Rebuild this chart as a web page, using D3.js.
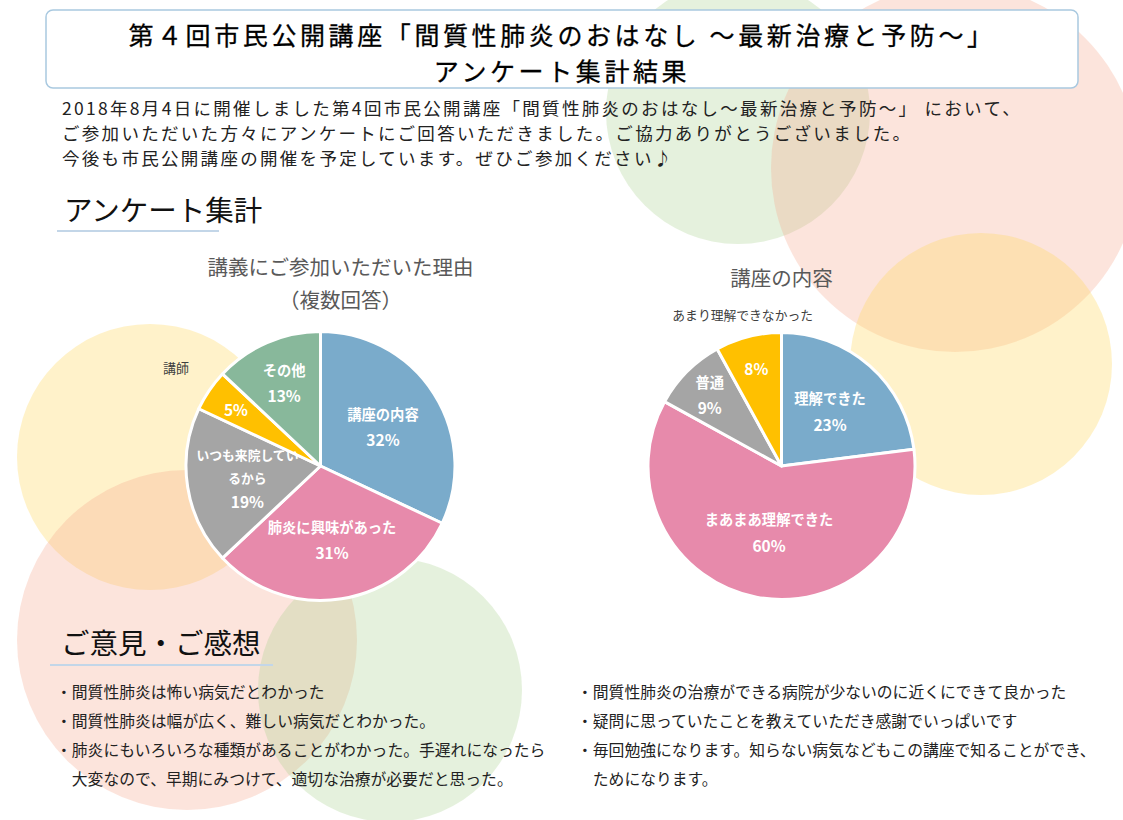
<!DOCTYPE html>
<html><head><meta charset="utf-8">
<script src="https://cdn.jsdelivr.net/npm/d3@7"></script>
<style>
html,body{margin:0;padding:0;background:#fff;}
svg{display:block;font-family:"Noto Sans CJK JP","Noto Sans",sans-serif;}
</style></head><body>
<svg id="c" width="1123" height="820"></svg>
<script>
// ---- data ----
const titleLines = ["第４回市民公開講座「間質性肺炎のおはなし ～最新治療と予防～」", "アンケート集計結果"];
const introLines = [
  "2018年8月4日に開催しました第4回市民公開講座「間質性肺炎のおはなし～最新治療と予防～」 において、",
  "ご参加いただいた方々にアンケートにご回答いただきました。ご協力ありがとうございました。",
  "今後も市民公開講座の開催を予定しています。ぜひご参加ください♪"
];
const section1 = "アンケート集計";
const section2 = "ご意見・ご感想";

const pie1Title = ["講義にご参加いただいた理由", "（複数回答）"];
const pie1Categories = ["講座の内容", "肺炎に興味があった", "いつも来院しているから", "講師", "その他"];
const pie1Values = [32, 31, 19, 5, 13];

const pie2Title = ["講座の内容"];
const pie2Categories = ["理解できた", "まあまあ理解できた", "普通", "あまり理解できなかった"];
const pie2Values = [23, 60, 9, 8];

const commentsLeft = [
  ["・間質性肺炎は怖い病気だとわかった"],
  ["・間質性肺炎は幅が広く、難しい病気だとわかった。"],
  ["・肺炎にもいろいろな種類があることがわかった。手遅れになったら", "　大変なので、早期にみつけて、適切な治療が必要だと思った。"]
];
const commentsRight = [
  ["・間質性肺炎の治療ができる病院が少ないのに近くにできて良かった"],
  ["・疑問に思っていたことを教えていただき感謝でいっぱいです"],
  ["・毎回勉強になります。知らない病気などもこの講座で知ることができ、", "　ためになります。"]
];

// ---- drawing ----
const svg = d3.select("#c");

// decorative background circles
const bg = svg.append("g");
const bgCircles = [
  {cx: 738, cy: 112, r: 132, c: "#a9d08e", o: 0.3},
  {cx: 955, cy: 168, r: 184, c: "#f4a58a", o: 0.3},
  {cx: 981, cy: 364, r: 131, c: "#ffd966", o: 0.35},
  {cx: 150, cy: 457, r: 133, c: "#ffd966", o: 0.35},
  {cx: 187, cy: 640, r: 170, c: "#f4a58a", o: 0.3},
  {cx: 390, cy: 690, r: 132, c: "#a9d08e", o: 0.3}
];
bg.selectAll("circle").data(bgCircles).join("circle")
  .attr("cx", d => d.cx).attr("cy", d => d.cy).attr("r", d => d.r)
  .attr("fill", d => d.c).attr("fill-opacity", d => d.o);

// title box
svg.append("rect").attr("x", 46).attr("y", 10).attr("width", 1032).attr("height", 78)
  .attr("rx", 7).attr("fill", "#fff").attr("stroke", "#a9c9e0").attr("stroke-width", 1.5);
svg.append("g").selectAll("text").data(titleLines).join("text")
  .attr("x", 562).attr("y", (d, i) => 34 + i * 36)
  .attr("text-anchor", "middle").attr("dominant-baseline", "central")
  .attr("font-size", 25).attr("letter-spacing", 3.6).attr("fill", "#000")
  .attr("stroke", "#000").attr("stroke-width", 0.3)
  .text(d => d);

// intro
svg.append("g").selectAll("text").data(introLines).join("text")
  .attr("x", 62).attr("y", (d, i) => 107 + i * 25)
  .attr("dominant-baseline", "central")
  .attr("font-size", 17.5).attr("letter-spacing", 2.3).attr("fill", "#222")
  .text(d => d);

// section headings
function heading(txt, x, y, x1, x2, ly) {
  svg.append("text").attr("x", x).attr("y", y).attr("dominant-baseline", "central")
    .attr("font-size", 28.5).attr("fill", "#111").text(txt);
  svg.append("line").attr("x1", x1).attr("x2", x2).attr("y1", ly).attr("y2", ly)
    .attr("stroke", "#c3d6e8").attr("stroke-width", 2);
}
heading(section1, 64, 208, 57, 219, 231);
heading(section2, 61, 641, 50, 273, 665);

// pies
const colors = ["#7aabcb", "#e78aab", "#a5a5a5", "#ffc000", "#88b89b"];
function drawPie(cx, cy, r, cats, vals, title, titleY, outsideIdx, outsideFactor, outsideSize) {
  const g = svg.append("g").attr("transform", `translate(${cx},${cy})`);
  const pie = d3.pie().sort(null).value(d => d.v);
  const data = pie(cats.map((c, i) => ({c, v: vals[i], i})));
  const arc = d3.arc().innerRadius(0).outerRadius(r);
  g.selectAll("path").data(data).join("path")
    .attr("d", arc).attr("fill", d => colors[d.data.i])
    .attr("stroke", "#fff").attr("stroke-width", 3).attr("stroke-linejoin", "round");
  const total = d3.sum(vals);
  data.forEach(d => {
    const frac = d.data.v / total;
    const lr = r * (frac < 0.1 ? 0.76 : frac < 0.15 ? 0.68 : frac > 0.5 ? 0.5 : 0.55);
    const la = d3.arc().innerRadius(lr).outerRadius(lr);
    const [x, y] = la.centroid(d);
    const pct = Math.round(frac * 100) + "%";
    let lines;
    if (d.data.i === outsideIdx) lines = [pct];
    else if (d.data.c.length > 10) lines = [d.data.c.slice(0, 8), d.data.c.slice(8), pct];
    else lines = [d.data.c, pct];
    const step = lines.length > 2 ? 23 : 26;
    const nameSize = lines.length > 2 ? 12.8 : 14.3;
    const y0 = y - (lines.length - 1) * step / 2;
    g.append("g").selectAll("text").data(lines).join("text")
      .attr("x", x).attr("y", (t, k) => y0 + k * step)
      .attr("text-anchor", "middle").attr("dominant-baseline", "central")
      .attr("fill", "#fff").attr("font-weight", "bold")
      .attr("font-size", (t, k) => k === lines.length - 1 ? 15.5 : nameSize)
      .text(t => t);
    if (d.data.i === outsideIdx) {
      const oa = d3.arc().innerRadius(r * outsideFactor).outerRadius(r * outsideFactor);
      const [ox, oy] = oa.centroid(d);
      g.append("text").attr("x", ox).attr("y", oy)
        .attr("text-anchor", "middle").attr("dominant-baseline", "central")
        .attr("font-size", outsideSize).attr("fill", "#404040").text(d.data.c);
    }
  });
  svg.append("g").selectAll("text").data(title).join("text")
    .attr("x", (t, k) => title.length > 1 ? cx + 20 : cx).attr("y", (t, k) => titleY + k * 33)
    .attr("text-anchor", "middle").attr("dominant-baseline", "central")
    .attr("font-size", 20.5).attr("fill", "#595959").text(t => t);
}
drawPie(320.5, 466, 134.5, pie1Categories, pie1Values, pie1Title, 266, 3, 1.3, 13);
drawPie(781.5, 466, 133.5, pie2Categories, pie2Values, pie2Title, 277, 3, 1.17, 12.8);

// comments
function comments(list, x, y0) {
  const flat = [];
  list.forEach(item => item.forEach(l => flat.push(l)));
  svg.append("g").selectAll("text").data(flat).join("text")
    .attr("x", x).attr("y", (d, i) => y0 + i * 29)
    .attr("dominant-baseline", "central")
    .attr("font-size", 15.8).attr("fill", "#222").text(d => d);
}
comments(commentsLeft, 56, 691);
comments(commentsRight, 577, 691);
</script>
</body></html>
